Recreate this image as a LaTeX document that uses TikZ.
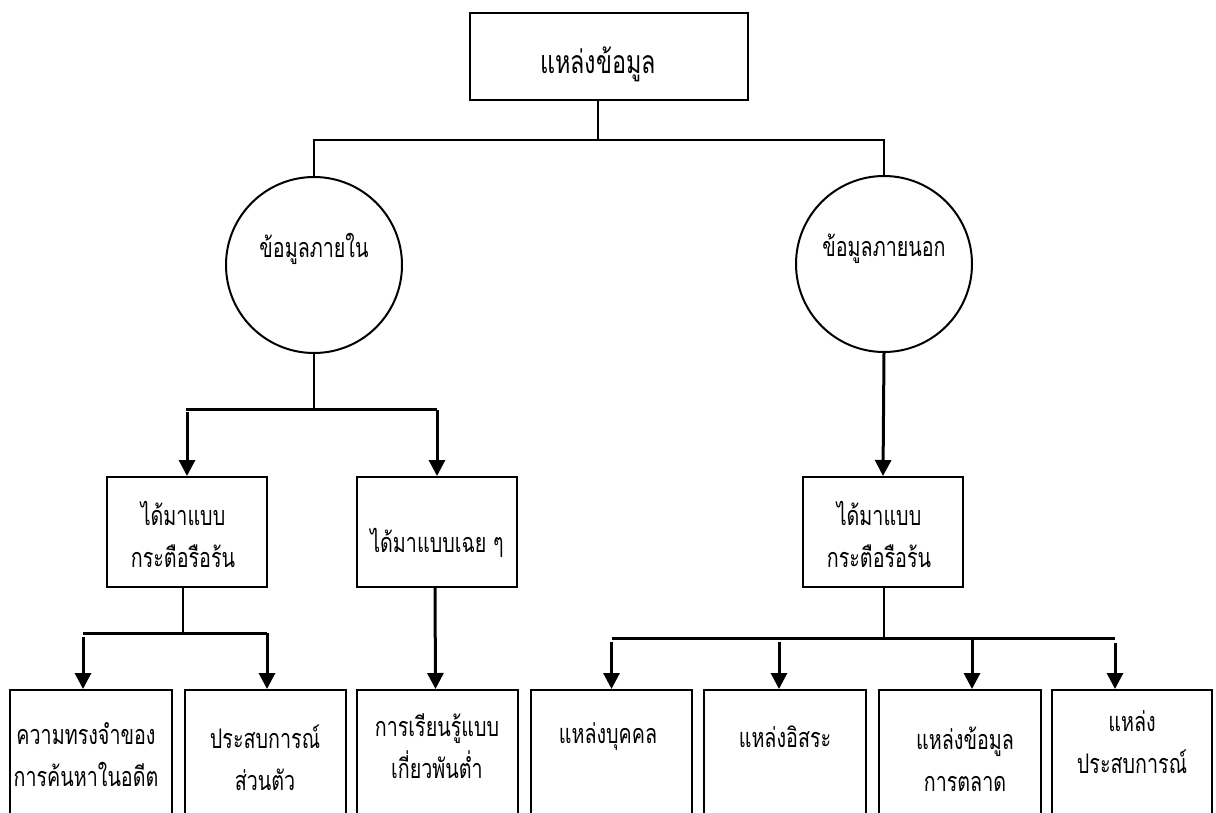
\documentclass[tikz,border=0pt]{standalone}
\usepackage{fontspec}
\newfontfamily\thaifont[Script=Thai,FakeStretch=0.73]{Loma}
\usetikzlibrary{arrows.meta}
\begin{document}
\begin{tikzpicture}[x=1pt,y=-1pt,
  box/.style={draw,line width=2pt,rectangle,inner sep=0pt},
  circ/.style={draw,line width=2pt,circle,minimum size=176pt,inner sep=0pt},
  txt/.style={font=\thaifont\fontsize{27}{42}\selectfont,align=center,inner sep=0pt},
  bigtxt/.style={font=\thaifont\fontsize{32}{40}\selectfont,align=center,inner sep=0pt},
  conn/.style={line width=2pt},
  arr/.style={line width=3pt,-{Triangle[length=16pt,width=16pt]}},
  hline/.style={line width=3pt}]
\useasboundingbox[fill=white] (0,0) rectangle (1216,812);
% top
\node[box,minimum width=278pt,minimum height=87pt] (top) at (609,56.5) {};
\node[bigtxt] (toptext) at (598,64) {แหล่งข้อมูล};
% circles
\node[circ] (inner) at (314,265) {};
\node[txt] (innertext) at (314,249) {ข้อมูลภายใน};
\node[circ] (outer) at (884,264) {};
\node[txt] (outertext) at (884,249) {ข้อมูลภายนอก};
% level 2
\node[box,minimum width=160pt,minimum height=110pt] (A) at (187,532) {};
\node[txt] (Atext) at (183,534) {ได้มาแบบ\\กระตือรือร้น};
\node[box,minimum width=160pt,minimum height=110pt] (B) at (437,532) {};
\node[txt] (Btext) at (437,543) {ได้มาแบบเฉย ๆ};
\node[box,minimum width=160pt,minimum height=110pt] (G) at (883,532) {};
\node[txt] (Gtext) at (879,534) {ได้มาแบบ\\กระตือรือร้น};
% level 3
\node[box,minimum width=162pt,minimum height=140pt] (C) at (91,760) {};
\node[txt] (Ctext) at (86,755) {ความทรงจำของ\\การค้นหาในอดีต};
\node[box,minimum width=161pt,minimum height=140pt] (D) at (265.5,760) {};
\node[txt] (Dtext) at (265,758) {ประสบการณ์\\ส่วนตัว};
\node[box,minimum width=161pt,minimum height=140pt] (E) at (437.5,760) {};
\node[txt] (Etext) at (437,746) {การเรียนรู้แบบ\\เกี่ยวพันต่ำ};
\node[box,minimum width=161pt,minimum height=140pt] (F) at (611.5,760) {};
\node[txt] (Ftext) at (608,737) {แหล่งบุคคล};
\node[box,minimum width=162pt,minimum height=140pt] (H) at (785,760) {};
\node[txt] (Htext) at (785,737) {แหล่งอิสระ};
\node[box,minimum width=162pt,minimum height=140pt] (I) at (960,760) {};
\node[txt] (Itext) at (965,759) {แหล่งข้อมูล\\การตลาด};
\node[box,minimum width=160pt,minimum height=140pt] (J) at (1132,760) {};
\node[txt] (Jtext) at (1132,742) {แหล่ง\\ประสบการณ์};
% junctions
\coordinate (j0) at (598,140);
\coordinate (j1) at (314,409);
\coordinate (j2) at (183,633);
\coordinate (j3) at (884,638);
% connectors top
\draw[conn] (j0 |- top.south) -- (j0);
\draw[conn] (inner.north) -- (inner.north |- j0) -- (outer.north |- j0) -- (outer.north);
% inner
\draw[conn] (inner.south) -- (j1);
\draw[hline] ([xshift=-1pt]A.north |- j1) -- (B.north |- j1);
\draw[arr] ([yshift=-3pt]A.north |- j1) -- (A.north);
\draw[arr] ([yshift=-1pt]B.north |- j1) -- (B.north);
% outer
\draw[arr] (outer.south) -- (G.north);
% A children
\draw[conn] (A.south -| j2) -- (j2);
\draw[hline] ([xshift=-8pt]C.north |- j2) -- ([xshift=1.5pt]D.north |- j2);
\draw[arr] ([xshift=-8pt,yshift=-4pt]C.north |- j2) -- ([xshift=-8pt]C.north);
\draw[arr] ([xshift=1.5pt]D.north |- j2) -- ([xshift=1.5pt]D.north);
% B child
\draw[arr] ([xshift=-2pt]B.south) -- ([xshift=-2pt]E.north);
% G children
\draw[conn] (G.south -| j3) -- (j3);
\draw[hline] (F.north |- j3) -- ([xshift=-17pt]J.north |- j3);
\draw[arr] ([yshift=-4pt]F.north |- j3) -- (F.north);
\draw[arr] ([xshift=-6pt,yshift=-4pt]H.north |- j3) -- ([xshift=-6pt]H.north);
\draw[arr] ([xshift=12pt]I.north |- j3) -- ([xshift=12pt]I.north);
\draw[arr] ([xshift=-17pt,yshift=-5pt]J.north |- j3) -- ([xshift=-17pt]J.north);
\end{tikzpicture}
\end{document}
